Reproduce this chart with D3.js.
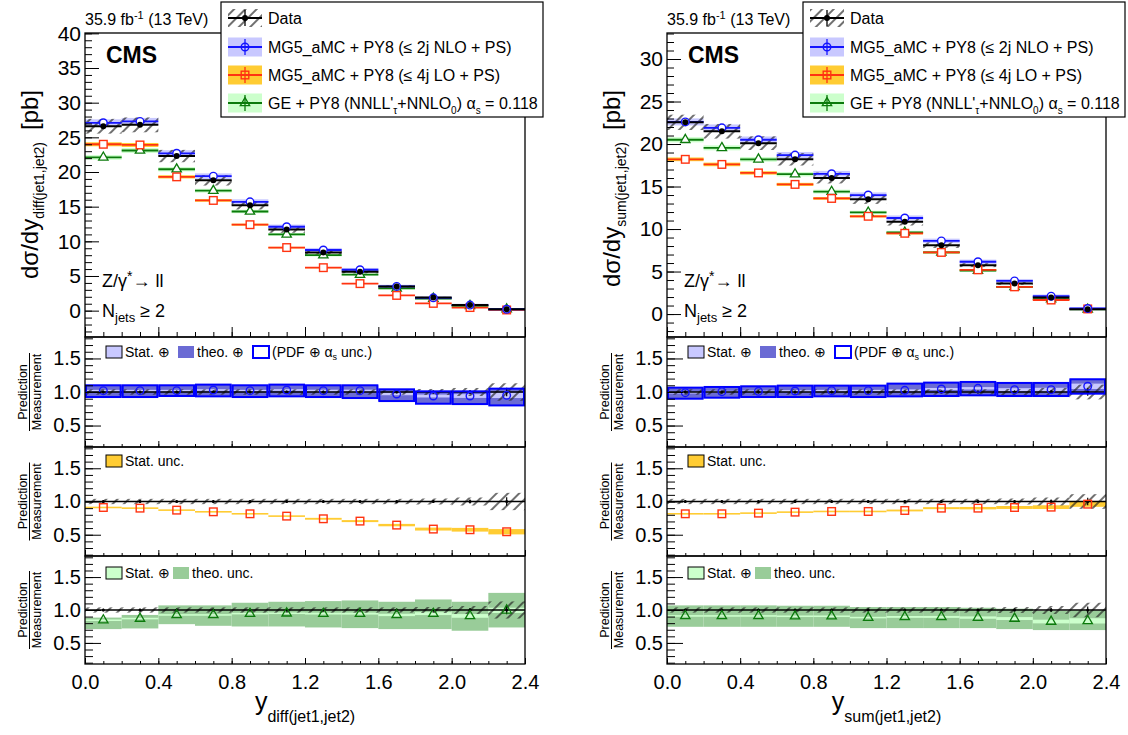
<!DOCTYPE html>
<html><head><meta charset="utf-8">
<script src="https://cdn.jsdelivr.net/npm/d3@7"></script>
<style>
body{margin:0;background:#fff}
svg text{font-family:"Liberation Sans",Arial,Helvetica,sans-serif;fill:#000}
</style>
</head><body>
<svg id="c" width="1128" height="735"></svg>
<script>
// ---------- data ----------
const binEdges = [0.0,0.2,0.4,0.6,0.8,1.0,1.2,1.4,1.6,1.8,2.0,2.2,2.4];
const xTickValues = [0.0,0.4,0.8,1.2,1.6,2.0,2.4];
const xTickLabels = ["0.0","0.4","0.8","1.2","1.6","2.0","2.4"];
const ratioTickValues = [0.5,1.0,1.5];
const ratioTickLabels = ["0.5","1.0","1.5"];
const diffMainTicks = [0,5,10,15,20,25,30,35,40];
const sumMainTicks = [0,5,10,15,20,25,30];

// y_diff(jet1,jet2) panel
const diffData = [26.6,26.8,22.3,18.8,15.2,11.7,8.4,5.6,3.5,1.9,0.8,0.2];
const diffDataRelErr = [0.04,0.04,0.04,0.04,0.04,0.04,0.04,0.04,0.04,0.045,0.06,0.13];
const diffNLO = [27.1,27.3,22.7,19.4,15.7,12.1,8.75,5.9,3.5,1.85,0.8,0.2];
const diffLO = [24.0,23.9,19.3,15.9,12.4,9.1,6.2,3.9,2.2,1.05,0.45,0.1];
const diffGE = [22.1,23.1,20.4,17.3,14.3,11.0,8.0,5.2,3.2,1.75,0.7,0.2];
const diffPredStatRel = [0.012,0.012,0.012,0.012,0.012,0.012,0.014,0.015,0.018,0.022,0.028,0.04];
const diffRatioNLO = [1.02,1.02,1.02,1.03,1.02,1.03,1.02,1.02,0.97,0.94,0.94,0.95];
const diffNLOUncHi = [1.10,1.10,1.10,1.11,1.10,1.11,1.10,1.10,1.04,1.01,1.01,1.05];
const diffNLOUncLo = [0.925,0.925,0.94,0.935,0.925,0.935,0.925,0.91,0.865,0.825,0.82,0.80];
const diffRatioLO = [0.91,0.90,0.87,0.845,0.815,0.78,0.74,0.705,0.645,0.585,0.575,0.545];
const diffRatioGE = [0.845,0.87,0.925,0.925,0.945,0.95,0.945,0.945,0.925,0.945,0.91,0.995];
const diffGEUncHi = [0.885,0.925,1.07,1.07,1.11,1.125,1.135,1.145,1.125,1.16,1.125,1.26];
const diffGEUncLo = [0.71,0.72,0.785,0.76,0.75,0.75,0.735,0.725,0.71,0.71,0.685,0.735];

// y_sum(jet1,jet2) panel
const sumData = [22.55,21.5,20.1,18.2,16.0,13.5,10.85,8.1,5.75,3.6,1.95,0.55];
const sumDataRelErr = [0.04,0.04,0.04,0.04,0.04,0.04,0.04,0.04,0.04,0.045,0.06,0.11];
const sumNLO = [22.6,21.9,20.5,18.7,16.5,14.0,11.3,8.6,6.15,3.9,2.1,0.65];
const sumLO = [18.2,17.6,16.6,15.25,13.6,11.5,9.5,7.25,5.2,3.2,1.65,0.6];
const sumGE = [20.5,19.55,18.2,16.45,14.4,11.95,9.6,7.25,5.1,3.2,1.75,0.55];
const sumPredStatRel = [0.012,0.012,0.012,0.012,0.012,0.012,0.014,0.015,0.018,0.022,0.028,0.04];
const sumRatioNLO = [0.99,1.005,1.01,1.015,1.02,1.02,1.025,1.045,1.055,1.035,1.035,1.085];
const sumNLOUncHi = [1.065,1.075,1.085,1.095,1.095,1.095,1.125,1.14,1.15,1.135,1.135,1.19];
const sumNLOUncLo = [0.90,0.915,0.925,0.925,0.935,0.925,0.935,0.94,0.95,0.94,0.94,0.975];
const sumRatioLO = [0.815,0.815,0.825,0.84,0.85,0.85,0.865,0.9,0.9,0.91,0.915,0.96];
const sumRatioGE = [0.91,0.91,0.91,0.905,0.905,0.885,0.895,0.895,0.885,0.87,0.825,0.835];
const sumGEUncHi = [1.07,1.07,1.07,1.065,1.065,1.045,1.045,1.045,1.035,1.02,0.985,0.995];
const sumGEUncLo = [0.745,0.745,0.745,0.745,0.745,0.725,0.725,0.725,0.725,0.71,0.695,0.695];

// ---------- styles ----------
const C = {
  nlo:"#1414ff", nloStat:"#c8c8ff", nloTheo:"#6b6bd4",
  lo:"#ff3311", loBand:"#ffcc33",
  ge:"#0b7a0b", geStat:"#ccffcc", geTheo:"#99cc99"
};
const P = {main:[33,337], r1:[337,447], r2:[447,556], r3:[556,664]};
const ratioDomain = [0.18,1.82];

const svg = d3.select("#c");
const defs = svg.append("defs");
const pat = defs.append("pattern").attr("id","hatch").attr("patternUnits","userSpaceOnUse")
  .attr("width",8).attr("height",8).attr("patternTransform","rotate(45)");
pat.append("line").attr("x1",4).attr("y1",0).attr("x2",4).attr("y2",8)
  .attr("stroke","#222").attr("stroke-width",1.3);

function marker(g,type,x,y,color,fill){
  const f = fill||"none";
  if(type==="circ"){
    g.append("circle").attr("cx",x).attr("cy",y).attr("r",3.8)
      .attr("fill",f).attr("stroke",color).attr("stroke-width",1.4);
  } else if(type==="sq"){
    g.append("rect").attr("x",x-3.8).attr("y",y-3.8).attr("width",7.6).attr("height",7.6)
      .attr("fill",f).attr("stroke",color).attr("stroke-width",1.4);
  } else if(type==="tri"){
    g.append("path").attr("d",d3.symbol(d3.symbolTriangle,38)())
      .attr("transform",`translate(${x},${y})`)
      .attr("fill",f).attr("stroke",color).attr("stroke-width",1.3);
  } else if(type==="dot"){
    g.append("circle").attr("cx",x).attr("cy",y).attr("r",3)
      .attr("fill","#000");
  }
}

function styleAxis(s,fs){
  s.select(".domain").remove();
  s.selectAll(".tick line").attr("stroke","#000").attr("stroke-width",1);
  s.selectAll("text").attr("font-size",fs).attr("font-family",'"Liberation Sans",Arial,sans-serif').attr("fill","#000");
  s.attr("font-family",null).attr("font-size",null);
}

function yAxes(g,Y,x0,majors,minors,majLen,minLen,labels,fs){
  g.append("g").attr("transform",`translate(${x0},0)`)
    .call(d3.axisLeft(Y).tickValues(minors).tickSizeInner(-minLen).tickSizeOuter(0).tickFormat(""))
    .call(s=>styleAxis(s,fs));
  g.append("g").attr("transform",`translate(${x0},0)`)
    .call(d3.axisLeft(Y).tickValues(majors).tickSizeInner(-majLen).tickSizeOuter(0).tickPadding(4)
      .tickFormat((d,i)=>labels[i]))
    .call(s=>styleAxis(s,fs));
}

function xAxes(g,X,yb,len1,len2,withLabels){
  const fine = d3.range(0,24.5,1).map(d=>d/10);
  g.append("g").attr("transform",`translate(0,${yb})`)
    .call(d3.axisBottom(X).tickValues(fine).tickSizeInner(-len2).tickSizeOuter(0).tickFormat(""))
    .call(s=>styleAxis(s,20));
  g.append("g").attr("transform",`translate(0,${yb})`)
    .call(d3.axisBottom(X).tickValues(xTickValues).tickSizeInner(-len1).tickSizeOuter(0).tickPadding(11)
      .tickFormat((d,i)=>withLabels?xTickLabels[i]:""))
    .call(s=>styleAxis(s,20));
}

function frame(g,x0,x1,y0,y1){
  g.append("rect").attr("x",x0).attr("y",y0).attr("width",x1-x0).attr("height",y1-y0)
    .attr("fill","none").attr("stroke","#000").attr("stroke-width",1.3);
}

function ratioTitle(g,x0,yc){
  const t = g.append("g").attr("transform",`translate(${x0-58},${yc}) rotate(-90)`);
  t.append("text").attr("x",0).attr("y",0).attr("text-anchor","middle").attr("font-size",12.5).text("Prediction");
  t.append("line").attr("x1",-39).attr("x2",39).attr("y1",2.5).attr("y2",2.5).attr("stroke","#000").attr("stroke-width",1);
  t.append("text").attr("x",0).attr("y",14).attr("text-anchor","middle").attr("font-size",12.5).text("Measurement");
}

function dataRatio(g,X,R,bins,relErr){
  g.selectAll(null).data(bins).join("rect")
    .attr("x",b=>X(b.a)).attr("width",b=>X(b.b)-X(b.a))
    .attr("y",b=>R(1+relErr[b.i])).attr("height",b=>R(1-relErr[b.i])-R(1+relErr[b.i]))
    .attr("fill","url(#hatch)");
  g.append("line").attr("x1",X(0)).attr("x2",X(2.4)).attr("y1",R(1)).attr("y2",R(1))
    .attr("stroke","#000").attr("stroke-width",1.6);
  bins.forEach(b=>{
    g.append("line").attr("x1",X(b.m)).attr("x2",X(b.m))
      .attr("y1",R(1+relErr[b.i]*0.5)).attr("y2",R(1-relErr[b.i]*0.5)).attr("stroke","#000").attr("stroke-width",1.2);
    g.append("circle").attr("cx",X(b.m)).attr("cy",R(1)).attr("r",1.5).attr("fill","#000");
  });
}

function smallLegend(g,x,y,items){
  let cx = x;
  items.forEach(it=>{
    g.append("rect").attr("x",cx).attr("y",y-6).attr("width",16).attr("height",12)
      .attr("fill",it.fill).attr("stroke",it.stroke||"none").attr("stroke-width",it.sw||0);
    const t = g.append("text").attr("x",cx+19).attr("y",y+5).attr("font-size",14).text(it.label);
    if(it.alpha){
      t.append("tspan").text("\u03b1");
      t.append("tspan").attr("font-size",9).attr("dy",3).text("s");
      t.append("tspan").attr("dy",-3).text(" unc.)");
    }
    cx += it.adv;
  });
}

function panelSet(c){
  const g = svg.append("g");
  const X = d3.scaleLinear([0,2.4],[c.x0,c.x1]);
  const bins = d3.range(12).map(i=>({i,a:binEdges[i],b:binEdges[i+1],m:(binEdges[i]+binEdges[i+1])/2}));

  // ===== main panel =====
  const Y = d3.scaleLinear(c.mainDomain,[P.main[1],P.main[0]]);
  const preds = [
    {v:c.ge, band:C.geStat, col:C.ge, mk:"tri", pad:0.5},
    {v:c.lo, band:C.loBand, col:C.lo, mk:"sq", pad:0},
    {v:c.nlo, band:C.nloStat, col:C.nlo, mk:"circ", pad:1.2}
  ];
  const gm = g.append("g");
  preds.forEach(p=>{
    gm.selectAll(null).data(bins).join("rect")
      .attr("x",b=>X(b.a)).attr("width",b=>X(b.b)-X(b.a))
      .attr("y",b=>Y(p.v[b.i]*(1+c.stat[b.i]))-p.pad)
      .attr("height",b=>Y(p.v[b.i]*(1-c.stat[b.i]))-Y(p.v[b.i]*(1+c.stat[b.i]))+2*p.pad)
      .attr("fill",p.band);
  });
  gm.selectAll(null).data(bins).join("rect")
    .attr("x",b=>X(b.a)).attr("width",b=>X(b.b)-X(b.a))
    .attr("y",b=>Y(c.data[b.i]*(1+c.dataErr[b.i])))
    .attr("height",b=>Y(c.data[b.i]*(1-c.dataErr[b.i]))-Y(c.data[b.i]*(1+c.dataErr[b.i])))
    .attr("fill","url(#hatch)");
  preds.forEach(p=>{
    gm.selectAll(null).data(bins).join("line")
      .attr("x1",b=>X(b.a)).attr("x2",b=>X(b.b))
      .attr("y1",b=>Y(p.v[b.i])).attr("y2",b=>Y(p.v[b.i]))
      .attr("stroke",p.col).attr("stroke-width",1.8);
  });
  gm.selectAll(null).data(bins).join("line")
    .attr("x1",b=>X(b.a)).attr("x2",b=>X(b.b))
    .attr("y1",b=>Y(c.data[b.i])).attr("y2",b=>Y(c.data[b.i]))
    .attr("stroke","#000").attr("stroke-width",2);
  bins.forEach(b=>{
    gm.append("line").attr("x1",X(b.m)).attr("x2",X(b.m))
      .attr("y1",Y(c.data[b.i]*(1+c.dataErr[b.i]*0.3))).attr("y2",Y(c.data[b.i]*(1-c.dataErr[b.i]*0.3)))
      .attr("stroke","#000").attr("stroke-width",1.5);
  });
  preds.forEach(p=>bins.forEach(b=>marker(gm,p.mk,X(b.m),Y(p.v[b.i]),p.col,"#fff")));
  bins.forEach(b=>marker(gm,"dot",X(b.m),Y(c.data[b.i]),"#000"));

  const mainMinor = d3.range(Math.ceil(c.mainDomain[0]),Math.floor(c.mainDomain[1])+1);
  yAxes(g,Y,c.x0,c.mainTicks,mainMinor,14,7,c.mainTicks.map(String),21);
  xAxes(g,X,P.main[1],10,5,false);
  frame(g,c.x0,c.x1,P.main[0],P.main[1]);

  // texts in main panel
  const lumi = g.append("text").attr("x",c.x0).attr("y",25).attr("font-size",16).text("35.9 fb");
  lumi.append("tspan").attr("font-size",11).attr("dy",-6).text("-1");
  lumi.append("tspan").attr("dy",6).text(" (13 TeV)");
  g.append("text").attr("x",c.x0+21).attr("y",63).attr("font-size",23).attr("font-weight","bold").text("CMS");
  const zt = g.append("text").attr("x",c.x0+17).attr("y",287).attr("font-size",18).text("Z/\u03b3");
  zt.append("tspan").attr("font-size",14).attr("dy",-6).text("*");
  zt.append("tspan").attr("dy",6).text("\u2192 ll");
  const nj = g.append("text").attr("x",c.x0+17).attr("y",317).attr("font-size",18).text("N");
  nj.append("tspan").attr("font-size",13).attr("dy",5).text("jets");
  nj.append("tspan").attr("dy",-5).text(" \u2265 2");

  // y title
  const yt = g.append("text").attr("transform",`translate(${c.x0-47},90) rotate(-90)`)
    .attr("text-anchor","end").attr("font-size",24).text("d\u03c3/dy");
  yt.append("tspan").attr("font-size",14).attr("dy",6).text(c.ysub);
  yt.append("tspan").attr("dy",-6).attr("dx",12).text("[pb]");

  // legend
  const lx = c.x0+136, lg = g.append("g");
  lg.append("rect").attr("x",lx).attr("y",2).attr("width",322).attr("height",115)
    .attr("fill","#fff").attr("stroke","#000").attr("stroke-width",1.2);
  const ly = [18,47,75,103];
  const sx0 = lx+7, sx1 = lx+41, sxm = (sx0+sx1)/2;
  lg.append("rect").attr("x",sx0).attr("y",ly[0]-9).attr("width",34).attr("height",18).attr("fill","url(#hatch)");
  lg.append("line").attr("x1",sx0).attr("x2",sx1).attr("y1",ly[0]).attr("y2",ly[0]).attr("stroke","#000").attr("stroke-width",2);
  lg.append("line").attr("x1",sxm).attr("x2",sxm).attr("y1",ly[0]-8).attr("y2",ly[0]+8).attr("stroke","#000").attr("stroke-width",1.3);
  marker(lg,"dot",sxm,ly[0],"#000");
  const legP = [
    {y:ly[1], band:C.nloStat, col:C.nlo, mk:"circ"},
    {y:ly[2], band:C.loBand, col:C.lo, mk:"sq"},
    {y:ly[3], band:C.geStat, col:C.ge, mk:"tri"}
  ];
  legP.forEach(p=>{
    lg.append("rect").attr("x",sx0).attr("y",p.y-9.5).attr("width",34).attr("height",19).attr("fill",p.band);
    lg.append("line").attr("x1",sx0).attr("x2",sx1).attr("y1",p.y).attr("y2",p.y).attr("stroke",p.col).attr("stroke-width",2);
    lg.append("line").attr("x1",sxm).attr("x2",sxm).attr("y1",p.y-8).attr("y2",p.y+8).attr("stroke",p.col).attr("stroke-width",1.3);
    marker(lg,p.mk,sxm,p.y,p.col);
  });
  const tx = lx+47;
  lg.append("text").attr("x",tx).attr("y",ly[0]+6).attr("font-size",16).text("Data");
  lg.append("text").attr("x",tx).attr("y",ly[1]+6).attr("font-size",16).text("MG5_aMC + PY8 (\u2264 2j NLO + PS)");
  lg.append("text").attr("x",tx).attr("y",ly[2]+6).attr("font-size",16).text("MG5_aMC + PY8 (\u2264 4j LO + PS)");
  const ge = lg.append("text").attr("x",tx).attr("y",ly[3]+6).attr("font-size",16).text("GE + PY8 (NNLL'");
  ge.append("tspan").attr("font-size",10).attr("dy",5).text("\u03c4");
  ge.append("tspan").attr("dy",-5).text("+NNLO");
  ge.append("tspan").attr("font-size",10).attr("dy",5).text("0");
  ge.append("tspan").attr("dy",-5).text(") \u03b1");
  ge.append("tspan").attr("font-size",10).attr("dy",5).text("s");
  ge.append("tspan").attr("dy",-5).text(" = 0.118");

  const ratioMinor = d3.range(2,19).map(d=>d/10);

  // ===== ratio 1: NLO =====
  {
    const R = d3.scaleLinear(ratioDomain,[P.r1[1],P.r1[0]]);
    const gr = g.append("g");
    gr.selectAll(null).data(bins).join("rect")
      .attr("x",b=>X(b.a)).attr("width",b=>X(b.b)-X(b.a))
      .attr("y",b=>R(c.nloHi[b.i])).attr("height",b=>R(c.nloLo[b.i])-R(c.nloHi[b.i]))
      .attr("fill",C.nloTheo);
    gr.selectAll(null).data(bins).join("rect")
      .attr("x",b=>X(b.a)).attr("width",b=>X(b.b)-X(b.a))
      .attr("y",b=>R(c.rNLO[b.i]+c.stat[b.i])).attr("height",b=>R(c.rNLO[b.i]-c.stat[b.i])-R(c.rNLO[b.i]+c.stat[b.i]))
      .attr("fill",C.nloStat);
    dataRatio(gr,X,R,bins,c.dataErr);
    gr.selectAll(null).data(bins).join("rect")
      .attr("x",b=>X(b.a)+1).attr("width",b=>X(b.b)-X(b.a)-2)
      .attr("y",b=>R(c.nloHi[b.i])).attr("height",b=>R(c.nloLo[b.i])-R(c.nloHi[b.i]))
      .attr("fill","none").attr("stroke","#0000ff").attr("stroke-width",2);
    bins.forEach(b=>marker(gr,"circ",X(b.m),R(c.rNLO[b.i]),C.nlo));
    yAxes(g,R,c.x0,ratioTickValues,ratioMinor,16,8,ratioTickLabels,20);
    xAxes(g,X,P.r1[1],6,3,false);
    frame(g,c.x0,c.x1,P.r1[0],P.r1[1]);
    ratioTitle(g,c.x0,(P.r1[0]+P.r1[1])/2);
    smallLegend(g,c.x0+21,P.r1[0]+15,[
      {fill:C.nloStat,stroke:"#000",sw:1,label:"Stat. \u2295",adv:72},
      {fill:C.nloTheo,label:"theo. \u2295",adv:75},
      {fill:"#fff",stroke:"#0000ff",sw:2,label:"(PDF \u2295 ",alpha:true,adv:0}
    ]);
  }
  // ===== ratio 2: LO =====
  {
    const R = d3.scaleLinear(ratioDomain,[P.r2[1],P.r2[0]]);
    const gr = g.append("g");
    gr.selectAll(null).data(bins).join("rect")
      .attr("x",b=>X(b.a)).attr("width",b=>X(b.b)-X(b.a))
      .attr("y",b=>R(c.rLO[b.i]+c.stat[b.i])).attr("height",b=>R(c.rLO[b.i]-c.stat[b.i])-R(c.rLO[b.i]+c.stat[b.i]))
      .attr("fill",C.loBand);
    dataRatio(gr,X,R,bins,c.dataErr);
    bins.forEach(b=>marker(gr,"sq",X(b.m),R(c.rLO[b.i]),C.lo));
    yAxes(g,R,c.x0,ratioTickValues,ratioMinor,16,8,ratioTickLabels,20);
    xAxes(g,X,P.r2[1],6,3,false);
    frame(g,c.x0,c.x1,P.r2[0],P.r2[1]);
    ratioTitle(g,c.x0,(P.r2[0]+P.r2[1])/2);
    smallLegend(g,c.x0+21,P.r2[0]+14,[
      {fill:C.loBand,stroke:"#000",sw:1,label:"Stat. unc.",adv:0}
    ]);
  }
  // ===== ratio 3: GE =====
  {
    const R = d3.scaleLinear(ratioDomain,[P.r3[1],P.r3[0]]);
    const gr = g.append("g");
    gr.selectAll(null).data(bins).join("rect")
      .attr("x",b=>X(b.a)).attr("width",b=>X(b.b)-X(b.a))
      .attr("y",b=>R(c.geHi[b.i])).attr("height",b=>R(c.geLo[b.i])-R(c.geHi[b.i]))
      .attr("fill",C.geTheo);
    gr.selectAll(null).data(bins).join("rect")
      .attr("x",b=>X(b.a)).attr("width",b=>X(b.b)-X(b.a))
      .attr("y",b=>R(c.rGE[b.i]+c.stat[b.i])).attr("height",b=>R(c.rGE[b.i]-c.stat[b.i])-R(c.rGE[b.i]+c.stat[b.i]))
      .attr("fill",C.geStat);
    dataRatio(gr,X,R,bins,c.dataErr);
    bins.forEach(b=>marker(gr,"tri",X(b.m),R(c.rGE[b.i]),C.ge));
    yAxes(g,R,c.x0,ratioTickValues,ratioMinor,16,8,ratioTickLabels,20);
    xAxes(g,X,P.r3[1],6,3,true);
    frame(g,c.x0,c.x1,P.r3[0],P.r3[1]);
    ratioTitle(g,c.x0,(P.r3[0]+P.r3[1])/2);
    smallLegend(g,c.x0+21,P.r3[0]+17,[
      {fill:C.geStat,stroke:"#000",sw:1,label:"Stat. \u2295",adv:67},
      {fill:C.geTheo,label:"theo. unc.",adv:0}
    ]);
  }
  // x title
  const xt = g.append("text").attr("x",(c.x0+c.x1)/2).attr("y",710).attr("text-anchor","middle").attr("font-size",25).text("y");
  xt.append("tspan").attr("font-size",16).attr("dy",12).text(c.xsub);
}

panelSet({x0:85,x1:525,mainDomain:[-3.8,40.05],mainTicks:diffMainTicks,
  data:diffData,dataErr:diffDataRelErr,nlo:diffNLO,lo:diffLO,ge:diffGE,stat:diffPredStatRel,
  rNLO:diffRatioNLO,nloHi:diffNLOUncHi,nloLo:diffNLOUncLo,rLO:diffRatioLO,
  rGE:diffRatioGE,geHi:diffGEUncHi,geLo:diffGEUncLo,
  ysub:"diff(jet1,jet2)",xsub:"diff(jet1,jet2)"});
panelSet({x0:667,x1:1106,mainDomain:[-2.7,33.06],mainTicks:sumMainTicks,
  data:sumData,dataErr:sumDataRelErr,nlo:sumNLO,lo:sumLO,ge:sumGE,stat:sumPredStatRel,
  rNLO:sumRatioNLO,nloHi:sumNLOUncHi,nloLo:sumNLOUncLo,rLO:sumRatioLO,
  rGE:sumRatioGE,geHi:sumGEUncHi,geLo:sumGEUncLo,
  ysub:"sum(jet1,jet2)",xsub:"sum(jet1,jet2)"});
</script>
</body></html>
